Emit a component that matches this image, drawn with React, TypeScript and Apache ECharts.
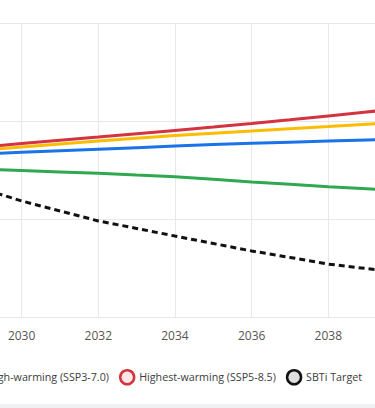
import React, { useEffect, useRef } from "react";
import * as echarts from "echarts";

const years = [2025, 2026, 2027, 2028, 2029, 2030, 2031, 2032, 2033, 2034, 2035, 2036, 2037, 2038, 2039, 2040];
const lowWarming = [78.2, 77.5, 76.8, 76.1, 75.4, 74.7, 74.0, 73.3, 72.4, 71.6, 70.3, 68.9, 67.7, 66.5, 65.4, 64.3];
const midWarming = [80.0, 80.8, 81.6, 82.4, 83.2, 84.0, 84.8, 85.6, 86.4, 87.2, 88.0, 88.6, 89.2, 89.8, 90.3, 90.8];
const highWarming = [79.0, 80.5, 82.0, 83.5, 85.1, 86.7, 88.3, 89.8, 91.2, 92.6, 93.8, 94.9, 96.1, 97.2, 98.4, 99.5];
const highestWarming = [80.0, 81.7, 83.4, 85.1, 86.8, 88.5, 90.2, 91.8, 93.5, 95.2, 96.9, 98.7, 100.6, 102.6, 104.6, 106.6];
const sbtiTarget = [80.0, 76.0, 72.0, 68.8, 65.3, 59.2, 54.1, 49.0, 45.2, 41.3, 37.5, 33.7, 30.4, 27.0, 24.7, 22.4];

const seriesNames = [
  "Low-warming (SSP1-2.6)",
  "Mid-warming (SSP2-4.5)",
  "High-warming (SSP3-7.0)",
  "Highest-warming (SSP5-8.5)",
  "SBTi Target",
];
const seriesData = [lowWarming, midWarming, highWarming, highestWarming, sbtiTarget];
const colors = ["#2fa84f", "#1a73e8", "#fbbc04", "#d3343f", "#111111"];
const iconFills = [
  "rgba(47,168,79,0.15)",
  "rgba(26,115,232,0.15)",
  "rgba(251,188,4,0.15)",
  "rgba(211,52,63,0.12)",
  "rgba(0,0,0,0.13)",
];

const CHART_W = 665;
const OFFSET = 240;

export default function App() {
  const ref = useRef<HTMLDivElement>(null);
  useEffect(() => {
    if (!ref.current) return;
    const chart = echarts.init(ref.current, undefined, { renderer: "svg" });
    const font = "'Open Sans', 'Noto Sans', sans-serif";
    chart.setOption({
      animation: false,
      textStyle: { fontFamily: font },
      grid: { left: 25, right: 20, top: 23, bottom: 91 },
      xAxis: {
        type: "value",
        min: 2024,
        max: 2040,
        interval: 2,
        axisLine: { show: true, lineStyle: { color: "#e6e8ec", width: 1 } },
        axisTick: { show: false },
        splitLine: { show: true, lineStyle: { color: "#e6e8ec", width: 1 } },
        axisLabel: {
          color: "#555",
          fontSize: 12,
          fontFamily: font,
          margin: 12,
          formatter: (v: number) => String(v),
        },
      },
      yAxis: {
        type: "value",
        min: 0,
        max: 150,
        interval: 50,
        axisLine: { show: false },
        axisTick: { show: false },
        splitLine: { show: true, lineStyle: { color: "#e6e8ec", width: 1 } },
        axisLabel: { color: "#555", fontSize: 12, fontFamily: font },
      },
      legend: {
        right: 58,
        top: 364,
        width: 1200,
        itemWidth: 14,
        itemHeight: 14,
        itemGap: 10,
        textStyle: { color: "#3c3c3c", fontSize: 10.7, fontFamily: font },
        data: seriesNames.map((n, i) => ({
          name: n,
          icon: "circle",
          itemStyle: { color: iconFills[i], borderColor: colors[i], borderWidth: 2.5, borderType: "solid" },
        })),
      },
      graphic: [
        {
          type: "rect",
          left: 0,
          top: 404,
          shape: { width: CHART_W, height: 4 },
          style: { fill: "#eef0f2" },
          silent: true,
        },
      ],
      series: seriesNames.map((n, i) => ({
        name: n,
        type: "line",
        showSymbol: false,
        symbol: "none",
        data: years.map((y, k) => [y, seriesData[i][k]]),
        lineStyle: {
          color: colors[i],
          width: 3,
          type: i === 4 ? [6, 4] : "solid",
        },
        itemStyle: { color: colors[i] },
        z: 2 + i,
      })),
    });
    return () => chart.dispose();
  }, []);
  return (
    <div style={{ position: "fixed", left: 0, top: 0, width: 375, height: 408, overflow: "hidden", background: "#fff" }}>
      <div ref={ref} style={{ position: "absolute", left: -OFFSET, top: 0, width: CHART_W, height: 408 }} />
    </div>
  );
}
